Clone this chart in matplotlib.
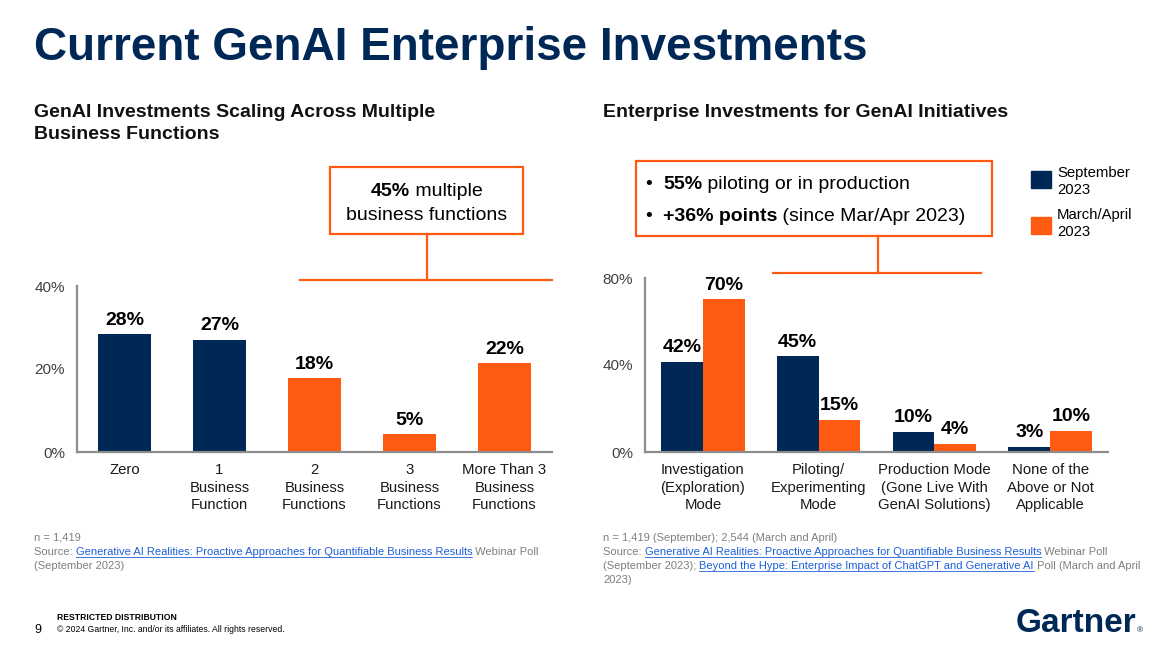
import matplotlib
matplotlib.use("Agg")
import matplotlib.pyplot as plt
from matplotlib.lines import Line2D
from matplotlib.patches import Rectangle
import numpy as np

plt.rcParams['font.family'] = ['Liberation Sans', 'DejaVu Sans']

# 색상
NAVY = '#002856'
ORANGE = '#FF5A12'
GRAY = '#7F7F7F'
LINK = '#1F5FD8'
AXIS = '#8C8C8C'

# 왼쪽 차트 데이터
left_cats = ['Zero', '1\nBusiness\nFunction', '2\nBusiness\nFunctions',
             '3\nBusiness\nFunctions', 'More Than 3\nBusiness\nFunctions']
left_vals = [28.4, 27.0, 17.8, 4.3, 21.4]
left_labels = ['28%', '27%', '18%', '5%', '22%']
left_colors = [NAVY, NAVY, ORANGE, ORANGE, ORANGE]

# 오른쪽 차트 데이터
right_cats = ['Investigation\n(Exploration)\nMode', 'Piloting/\nExperimenting\nMode',
              'Production Mode\n(Gone Live With\nGenAI Solutions)', 'None of the\nAbove or Not\nApplicable']
sep_vals = [41.4, 44.1, 9.2, 2.3]
sep_labels = ['42%', '45%', '10%', '3%']
mar_vals = [70.3, 14.7, 3.7, 9.7]
mar_labels = ['70%', '15%', '4%', '10%']

W, H = 1173, 652
fig = plt.figure(figsize=(W / 100, H / 100), dpi=100)
renderer = fig.canvas.get_renderer()


def fx(px):
    return px / W


def fy(py):
    return 1 - py / H


# 여러 스타일의 글자를 한 줄에 이어서 그린다 (y는 baseline, 픽셀 단위)
def runs(x, y, parts, size, center=False):
    texts = []
    cx = x
    for txt, color, bold, under in parts:
        t = fig.text(fx(cx), fy(y), txt, fontsize=size, color=color,
                     fontweight='bold' if bold else 'normal', va='baseline', ha='left')
        bb = t.get_window_extent(renderer)
        texts.append((t, bb.x0, bb.x1, under, color))
        cx = bb.x1
    shift = 0
    if center:
        shift = x - (x + cx) / 2
    for t, x0, x1, under, color in texts:
        t.set_x(fx(x0 + shift))
        if under:
            fig.add_artist(Line2D([fx(x0 + shift), fx(x1 + shift)], [fy(y + 1.5)] * 2,
                                  transform=fig.transFigure, color=color, lw=0.6))
    return cx


def style_axes(ax):
    for s in ['top', 'right']:
        ax.spines[s].set_visible(False)
    for s in ['left', 'bottom']:
        ax.spines[s].set_color(AXIS)
        ax.spines[s].set_linewidth(1.6)
    ax.tick_params(axis='both', length=0)
    ax.tick_params(axis='y', pad=8.5, labelsize=11, labelcolor='#404040')
    ax.tick_params(axis='x', pad=8, labelsize=10.7, labelcolor='#1a1a1a')
    for lab in ax.get_xticklabels():
        lab.set_linespacing(1.32)


# 제목
fig.text(fx(34), fy(60), 'Current GenAI Enterprise Investments', fontsize=33,
         fontweight='bold', color=NAVY, va='baseline')
fig.text(fx(34), fy(117), 'GenAI Investments Scaling Across Multiple',
         fontsize=14, fontweight='bold', color='#111111', va='baseline')
fig.text(fx(34), fy(139), 'Business Functions',
         fontsize=14, fontweight='bold', color='#111111', va='baseline')
fig.text(fx(603), fy(117), 'Enterprise Investments for GenAI Initiatives',
         fontsize=14, fontweight='bold', color='#111111', va='baseline')

# 왼쪽 차트
ax1 = fig.add_axes([fx(77), fy(452), fx(552) - fx(77), fy(286) - fy(452)])
x1 = np.arange(len(left_cats))
ax1.bar(x1, left_vals, width=0.56, color=left_colors)
for xi, v, lab in zip(x1, left_vals, left_labels):
    ax1.annotate(lab, (xi, v), xytext=(0, 4), textcoords='offset points', ha='center',
                 va='bottom', fontsize=14, fontweight='bold', annotation_clip=False)
ax1.set_xlim(-0.5, 4.5)
ax1.set_ylim(0, 40)
ax1.set_yticks([0, 20, 40])
ax1.set_yticklabels(['0%', '20%', '40%'])
ax1.set_xticks(x1)
ax1.set_xticklabels(left_cats)
style_axes(ax1)

# 오른쪽 차트
ax2 = fig.add_axes([fx(645), fy(452), fx(1108) - fx(645), fy(278) - fy(452)])
x2 = np.arange(len(right_cats))
bw = 0.36
ax2.bar(x2 - bw / 2, sep_vals, width=bw, color=NAVY)
ax2.bar(x2 + bw / 2, mar_vals, width=bw, color=ORANGE)
for xi, v, lab in zip(x2 - bw / 2, sep_vals, sep_labels):
    ax2.annotate(lab, (xi, v), xytext=(0, 4), textcoords='offset points', ha='center',
                 va='bottom', fontsize=14, fontweight='bold', annotation_clip=False)
for xi, v, lab in zip(x2 + bw / 2, mar_vals, mar_labels):
    ax2.annotate(lab, (xi, v), xytext=(0, 4), textcoords='offset points', ha='center',
                 va='bottom', fontsize=14, fontweight='bold', annotation_clip=False)
ax2.set_xlim(-0.5, 3.5)
ax2.set_ylim(0, 80)
ax2.set_yticks([0, 40, 80])
ax2.set_yticklabels(['0%', '40%', '80%'])
ax2.set_xticks(x2)
ax2.set_xticklabels(right_cats)
style_axes(ax2)

# 강조 박스 (왼쪽)
fig.add_artist(Rectangle((fx(330), fy(234)), fx(523) - fx(330), fy(167) - fy(234),
                         transform=fig.transFigure, fill=False, ec=ORANGE, lw=1.6))
fig.add_artist(Line2D([fx(427), fx(427)], [fy(234), fy(280)], transform=fig.transFigure,
                      color=ORANGE, lw=1.6))
fig.add_artist(Line2D([fx(300), fx(552)], [fy(280), fy(280)], transform=fig.transFigure,
                      color=ORANGE, lw=1.6))
runs(427, 196, [('45%', 'black', True, False), (' multiple', 'black', False, False)], 14, center=True)
runs(427, 220, [('business functions', 'black', False, False)], 14, center=True)

# 강조 박스 (오른쪽)
fig.add_artist(Rectangle((fx(636), fy(236)), fx(992) - fx(636), fy(161) - fy(236),
                         transform=fig.transFigure, fill=False, ec=ORANGE, lw=1.6))
fig.add_artist(Line2D([fx(878), fx(878)], [fy(236), fy(273)], transform=fig.transFigure,
                      color=ORANGE, lw=1.6))
fig.add_artist(Line2D([fx(773), fx(981)], [fy(273), fy(273)], transform=fig.transFigure,
                      color=ORANGE, lw=1.6))
fig.text(fx(645), fy(189), '•', fontsize=14, va='baseline')
fig.text(fx(645), fy(221), '•', fontsize=14, va='baseline')
runs(663, 189, [('55%', 'black', True, False), (' piloting or in production', 'black', False, False)], 14)
runs(663, 221, [('+36% points', 'black', True, False), (' (since Mar/Apr 2023)', 'black', False, False)], 14)

# 범례
fig.add_artist(Rectangle((fx(1031), fy(188)), fx(20), 17 / H,
                         transform=fig.transFigure, color=NAVY))
fig.add_artist(Rectangle((fx(1031), fy(234)), fx(20), 17 / H,
                         transform=fig.transFigure, color=ORANGE))
fig.text(fx(1057), fy(177), 'September', fontsize=10.7, va='baseline')
fig.text(fx(1057), fy(194), '2023', fontsize=10.7, va='baseline')
fig.text(fx(1057), fy(219), 'March/April', fontsize=10.7, va='baseline')
fig.text(fx(1057), fy(236), '2023', fontsize=10.7, va='baseline')

# 각주 (왼쪽)
src1 = 'Generative AI Realities: Proactive Approaches for Quantifiable Business Results'
src2 = 'Beyond the Hype: Enterprise Impact of ChatGPT and Generative AI'
runs(34, 541, [('n = 1,419', GRAY, False, False)], 8)
runs(34, 555, [('Source: ', GRAY, False, False), (src1, LINK, False, True),
               (' Webinar Poll', GRAY, False, False)], 8)
runs(34, 569, [('(September 2023)', GRAY, False, False)], 8)

# 각주 (오른쪽)
runs(603, 541, [('n = 1,419 (September); 2,544 (March and April)', GRAY, False, False)], 8)
runs(603, 555, [('Source: ', GRAY, False, False), (src1, LINK, False, True),
                (' Webinar Poll', GRAY, False, False)], 8)
runs(603, 569, [('(September 2023); ', GRAY, False, False), (src2, LINK, False, True),
                (' Poll (March and April', GRAY, False, False)], 8)
runs(603, 583, [('2023)', GRAY, False, False)], 8)

# 하단
fig.text(fx(57), fy(620), 'RESTRICTED DISTRIBUTION', fontsize=6.2, fontweight='bold', va='baseline')
fig.text(fx(57), fy(632), '© 2024 Gartner, Inc. and/or its affiliates. All rights reserved.',
         fontsize=6.2, va='baseline')
fig.text(fx(34), fy(633), '9', fontsize=9, va='baseline')
end = runs(1016, 632, [('Gartner', NAVY, True, False)], 24)
fig.text(fx(end), fy(632), '®', fontsize=6, color=NAVY, va='baseline')

fig.savefig('out.png', dpi=100)
